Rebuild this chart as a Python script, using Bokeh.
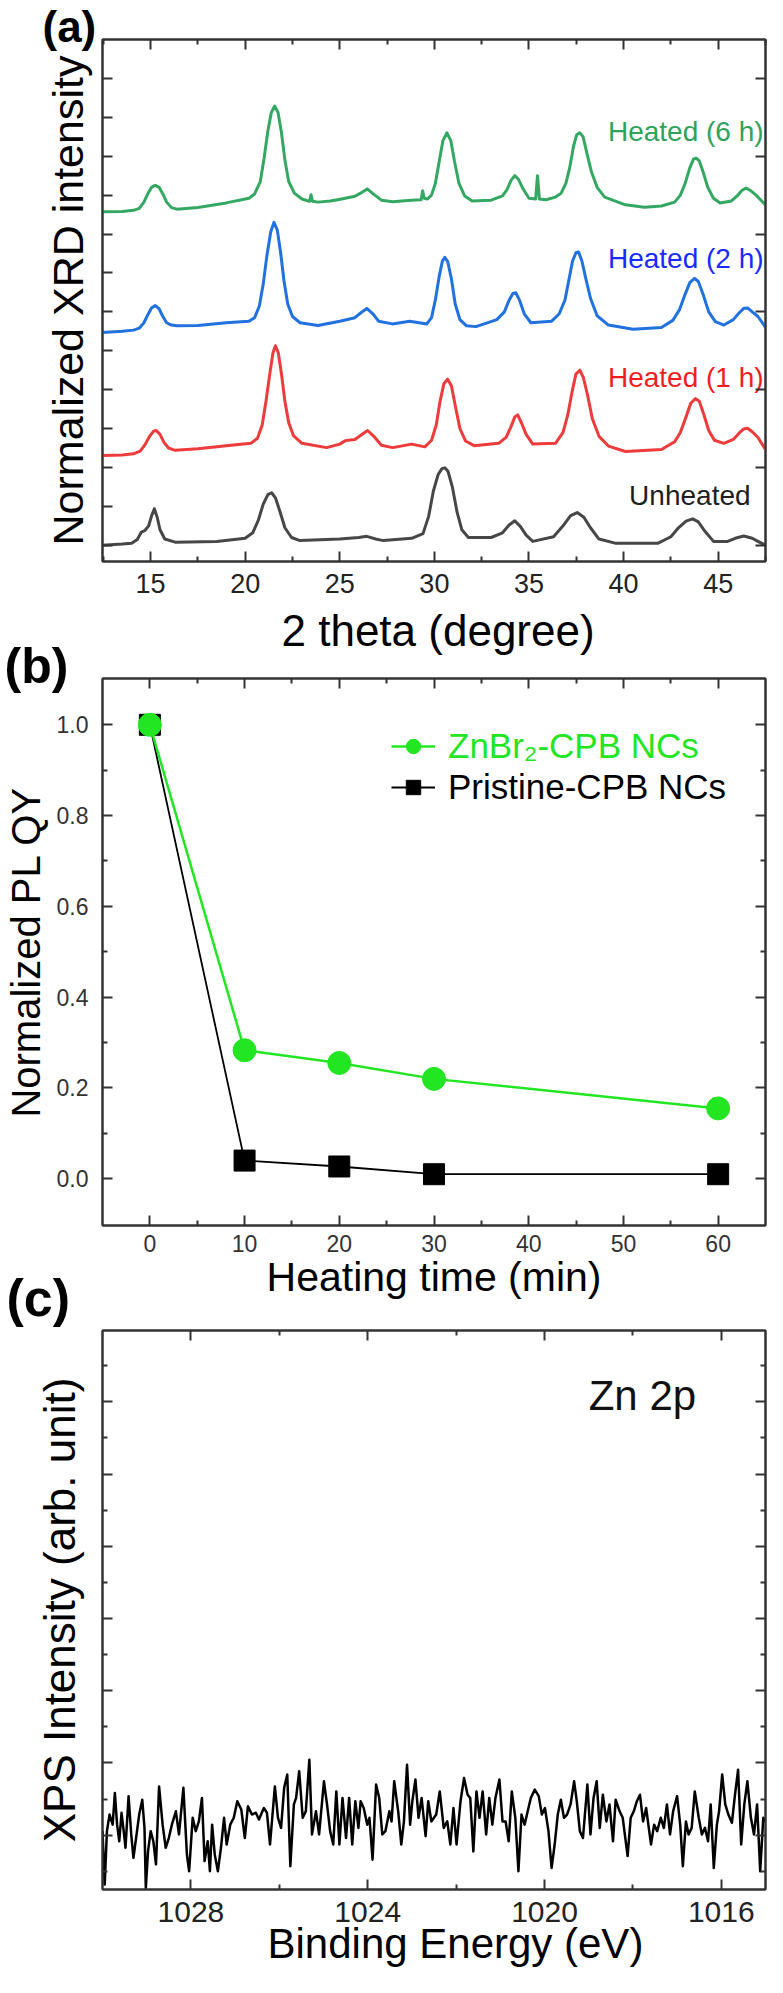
from bokeh.plotting import figure
from bokeh.models import (Range1d, FixedTicker, LinearAxis, Legend, LegendItem, Title,
                          PrintfTickFormatter, CustomJSTickFormatter)
from bokeh.layouts import column
from bokeh.embed import file_html
from bokeh.resources import INLINE
from bokeh.core.properties import value

# ---------------- data: (a) XRD patterns (2 theta, offset normalized intensity) ----------------
xrd_6h_2theta = [12.45, 13.5, 14.1, 14.4, 14.65, 14.85, 15.05, 15.25, 15.45, 15.65,
                 15.85, 16.1, 16.4, 17.5, 19.0, 20.2, 20.5, 20.8, 21.0, 21.2,
                 21.38, 21.56, 21.74, 21.92, 22.1, 22.3, 22.6, 23.0, 23.4, 23.48,
                 23.56, 23.85, 24.5, 25.1, 25.8, 26.1, 26.45, 26.8, 27.2, 27.8,
                 28.77, 29.3, 29.38, 29.46, 29.63, 29.85, 30.05, 30.25, 30.45, 30.66,
                 30.87, 31.07, 31.3, 31.6, 32.0, 33.0, 33.6, 33.85, 34.05, 34.25,
                 34.45, 34.7, 35.0, 35.35, 35.45, 35.55, 35.9, 36.4, 36.7, 36.95,
                 37.15, 37.35, 37.52, 37.69, 37.86, 38.05, 38.3, 38.6, 39.0, 40.1,
                 41.1, 42.0, 42.7, 43.0, 43.25, 43.5, 43.7, 43.84, 44.0, 44.2,
                 44.45, 44.75, 45.1, 45.7, 46.0, 46.25, 46.47, 46.7, 47.0, 47.3,
                 47.5]
xrd_6h_int = [8.57, 8.58, 8.61, 8.66, 8.82, 9.03, 9.20, 9.25, 9.20, 9.03,
              8.82, 8.68, 8.64, 8.68, 8.80, 8.92, 9.03, 9.35, 9.95, 10.65,
              11.12, 11.29, 11.12, 10.60, 9.90, 9.35, 9.05, 8.90, 8.84, 9.01,
              8.84, 8.82, 8.85, 8.90, 8.97, 9.05, 9.16, 9.02, 8.87, 8.83,
              8.87, 8.88, 9.11, 8.92, 8.90, 9.00, 9.30, 9.85, 10.40, 10.60,
              10.40, 9.85, 9.30, 8.98, 8.85, 8.87, 8.98, 9.15, 9.38, 9.50,
              9.40, 9.15, 8.92, 8.90, 9.50, 8.90, 8.88, 8.95, 9.05, 9.30,
              9.70, 10.25, 10.55, 10.60, 10.50, 10.10, 9.60, 9.20, 8.95, 8.75,
              8.69, 8.72, 8.82, 9.00, 9.30, 9.70, 9.93, 9.95, 9.88, 9.60,
              9.20, 8.92, 8.80, 8.85, 8.98, 9.12, 9.18, 9.12, 9.00, 8.85,
              8.75]

xrd_2h_2theta = [12.45, 13.5, 14.1, 14.4, 14.65, 14.85, 15.05, 15.25, 15.45, 15.65,
                 15.85, 16.1, 16.4, 17.5, 19.0, 20.2, 20.5, 20.75, 20.95, 21.15,
                 21.35, 21.52, 21.7, 21.88, 22.05, 22.25, 22.5, 22.9, 23.85, 25.0,
                 25.8, 26.1, 26.43, 26.75, 27.05, 27.78, 28.7, 29.6, 29.85, 30.05,
                 30.25, 30.42, 30.55, 30.7, 30.9, 31.1, 31.35, 31.7, 32.2, 33.3,
                 33.7, 33.95, 34.15, 34.3, 34.5, 34.75, 35.1, 36.2, 36.6, 36.9,
                 37.1, 37.3, 37.48, 37.62, 37.8, 38.0, 38.25, 38.6, 39.2, 40.5,
                 42.0, 42.6, 42.95, 43.25, 43.5, 43.75, 43.95, 44.2, 44.5, 44.85,
                 45.3, 45.8, 46.1, 46.35, 46.55, 46.8, 47.1, 47.5]
xrd_2h_int = [5.47, 5.50, 5.53, 5.58, 5.72, 5.92, 6.10, 6.16, 6.08, 5.88,
              5.72, 5.66, 5.64, 5.65, 5.72, 5.76, 5.85, 6.15, 6.70, 7.45,
              8.05, 8.30, 8.10, 7.50, 6.80, 6.20, 5.88, 5.72, 5.65, 5.76,
              5.85, 5.97, 6.09, 5.95, 5.76, 5.69, 5.76, 5.69, 5.85, 6.30,
              6.90, 7.30, 7.40, 7.30, 6.85, 6.20, 5.80, 5.64, 5.62, 5.80,
              6.00, 6.30, 6.47, 6.49, 6.30, 5.95, 5.72, 5.76, 5.95, 6.30,
              6.80, 7.30, 7.52, 7.54, 7.30, 6.86, 6.35, 5.90, 5.66, 5.55,
              5.60, 5.78, 6.05, 6.45, 6.75, 6.86, 6.78, 6.45, 6.00, 5.75,
              5.66, 5.80, 5.97, 6.09, 6.10, 6.00, 5.88, 5.60]

xrd_1h_2theta = [12.45, 13.5, 14.1, 14.45, 14.7, 14.95, 15.15, 15.3, 15.5, 15.7,
                 15.95, 16.3, 17.5, 19.0, 20.3, 20.65, 20.9, 21.1, 21.3, 21.47,
                 21.6, 21.75, 21.92, 22.1, 22.3, 22.55, 23.0, 24.3, 25.0, 25.3,
                 25.8, 26.15, 26.47, 26.8, 27.2, 27.8, 28.8, 29.5, 29.85, 30.1,
                 30.3, 30.5, 30.7, 30.9, 31.1, 31.35, 31.65, 32.1, 33.4, 33.8,
                 34.05, 34.25, 34.4, 34.6, 34.85, 35.2, 36.4, 36.8, 37.05, 37.28,
                 37.48, 37.69, 37.88, 38.1, 38.35, 38.7, 39.2, 40.1, 42.0, 42.7,
                 43.0, 43.3, 43.55, 43.8, 44.0, 44.25, 44.5, 44.8, 45.3, 45.8,
                 46.1, 46.35, 46.55, 46.8, 47.1, 47.5]
xrd_1h_int = [2.31, 2.32, 2.35, 2.42, 2.58, 2.80, 2.93, 2.95, 2.85, 2.65,
              2.50, 2.44, 2.48, 2.56, 2.62, 2.75, 3.09, 3.70, 4.40, 4.95,
              5.13, 4.95, 4.40, 3.70, 3.15, 2.82, 2.62, 2.51, 2.60, 2.69,
              2.72, 2.84, 2.95, 2.80, 2.57, 2.51, 2.60, 2.53, 2.70, 3.09,
              3.70, 4.15, 4.27, 4.10, 3.60, 3.00, 2.68, 2.56, 2.62, 2.78,
              3.05, 3.30, 3.35, 3.15, 2.85, 2.60, 2.62, 2.90, 3.35, 3.95,
              4.40, 4.50, 4.30, 3.85, 3.25, 2.80, 2.55, 2.41, 2.46, 2.66,
              2.90, 3.30, 3.65, 3.77, 3.70, 3.35, 2.95, 2.70, 2.62, 2.72,
              2.88, 2.99, 3.01, 2.92, 2.77, 2.46]

xrd_un_2theta = [12.45, 13.5, 14.0, 14.3, 14.5, 14.7, 14.9, 15.05, 15.2, 15.35,
                 15.5, 15.75, 16.3, 18.5, 20.0, 20.4, 20.7, 20.95, 21.2, 21.4,
                 21.6, 21.85, 22.1, 22.45, 22.9, 25.0, 26.0, 26.43, 26.9, 27.3,
                 28.8, 29.4, 29.7, 29.95, 30.2, 30.4, 30.55, 30.72, 30.95, 31.2,
                 31.45, 31.8, 33.0, 33.6, 33.95, 34.25, 34.55, 34.85, 35.2, 36.3,
                 36.8, 37.2, 37.55, 37.9, 38.25, 38.7, 39.6, 41.8, 42.5, 42.9,
                 43.3, 43.65, 43.95, 44.3, 44.75, 45.5, 45.9, 46.35, 46.8, 47.1,
                 47.5]
xrd_un_int = [0.00, 0.03, 0.05, 0.15, 0.33, 0.38, 0.50, 0.75, 0.94, 0.72,
              0.40, 0.16, 0.08, 0.10, 0.18, 0.32, 0.65, 1.05, 1.30, 1.35,
              1.22, 0.85, 0.45, 0.20, 0.12, 0.16, 0.20, 0.23, 0.16, 0.12,
              0.18, 0.30, 0.75, 1.40, 1.82, 1.97, 1.99, 1.90, 1.50, 0.85,
              0.40, 0.20, 0.20, 0.32, 0.52, 0.63, 0.48, 0.26, 0.10, 0.22,
              0.50, 0.76, 0.84, 0.72, 0.45, 0.16, 0.05, 0.05, 0.22, 0.45,
              0.62, 0.68, 0.60, 0.36, 0.10, 0.10, 0.18, 0.24, 0.18, 0.10,
              0.00]

xrd_names = ["Heated (6 h)", "Heated (2 h)", "Heated (1 h)", "Unheated"]
xrd_ticks = [15, 20, 25, 30, 35, 40, 45]

# ---------------- data: (b) PL QY vs heating time ----------------
heating_time = [0, 10, 20, 30, 60]
znbr2_qy = [1.0, 0.283, 0.255, 0.22, 0.155]
pristine_qy = [1.0, 0.04, 0.027, 0.01, 0.01]
qy_ticks = [0.0, 0.2, 0.4, 0.6, 0.8, 1.0]
time_ticks = [0, 10, 20, 30, 40, 50, 60]

# ---------------- data: (c) Zn 2p XPS ----------------
xps_be = [1030.00, 1029.95, 1029.90, 1029.84, 1029.77, 1029.72, 1029.67, 1029.62, 1029.57, 1029.52,
          1029.48, 1029.41, 1029.35, 1029.30, 1029.24, 1029.17, 1029.10, 1029.05, 1029.02, 1028.97,
          1028.91, 1028.85, 1028.79, 1028.72, 1028.64, 1028.57, 1028.50, 1028.43, 1028.34, 1028.27,
          1028.17, 1028.09, 1028.04, 1027.96, 1027.89, 1027.82, 1027.75, 1027.69, 1027.62, 1027.57,
          1027.52, 1027.46, 1027.39, 1027.32, 1027.25, 1027.19, 1027.11, 1027.03, 1026.95, 1026.86,
          1026.78, 1026.71, 1026.62, 1026.53, 1026.46, 1026.35, 1026.28, 1026.21, 1026.10, 1026.03,
          1025.96, 1025.89, 1025.82, 1025.75, 1025.67, 1025.62, 1025.55, 1025.47, 1025.40, 1025.32,
          1025.26, 1025.17, 1025.10, 1024.99, 1024.92, 1024.85, 1024.78, 1024.71, 1024.64, 1024.57,
          1024.49, 1024.42, 1024.35, 1024.28, 1024.21, 1024.16, 1024.09, 1024.01, 1023.96, 1023.89,
          1023.81, 1023.74, 1023.67, 1023.60, 1023.51, 1023.46, 1023.40, 1023.31, 1023.24, 1023.18,
          1023.11, 1023.04, 1022.99, 1022.92, 1022.85, 1022.78, 1022.69, 1022.63, 1022.56,
          1022.45, 1022.37, 1022.28, 1022.20, 1022.13, 1022.06, 1021.99, 1021.90, 1021.82, 1021.74,
          1021.68, 1021.61, 1021.54, 1021.47, 1021.40, 1021.32, 1021.25, 1021.18, 1021.11, 1021.02,
          1020.95, 1020.88, 1020.81, 1020.74, 1020.66, 1020.59, 1020.52, 1020.45, 1020.38, 1020.31,
          1020.22, 1020.13, 1020.06, 1019.99, 1019.91, 1019.84, 1019.77, 1019.70, 1019.63, 1019.56,
          1019.49, 1019.41, 1019.33, 1019.27, 1019.20, 1019.13, 1019.03, 1018.96, 1018.89, 1018.82,
          1018.75, 1018.68, 1018.60, 1018.53, 1018.45, 1018.39, 1018.30, 1018.23, 1018.12, 1018.05,
          1017.98, 1017.91, 1017.84, 1017.77, 1017.70, 1017.59, 1017.52, 1017.45, 1017.37, 1017.30,
          1017.23, 1017.16, 1017.09, 1017.00, 1016.93, 1016.87, 1016.80, 1016.74, 1016.67, 1016.60,
          1016.51, 1016.44, 1016.37, 1016.30, 1016.24, 1016.17, 1016.10, 1016.05, 1015.98, 1015.91,
          1015.84, 1015.76, 1015.69, 1015.62, 1015.55, 1015.48, 1015.41, 1015.33, 1015.26, 1015.19,
          1015.12, 1015.05, 1014.99]
xps_int = [1.11, -0.37, 1.11, 1.57, 1.29, 2.17, 1.29, 0.83, 1.62, 1.11,
           0.65, 2.08, 1.02, 0.37, 0.92, 1.57, 1.98, 1.20, -0.46, 0.55,
           1.11, 0.83, 0.19, 2.35, 1.29, 0.65, 0.92, 1.29, 1.66, 1.02,
           2.31, 0.46, 0.00, 1.48, 1.11, 1.38, 2.03, 0.28, 0.83, 0.00,
           1.29, 0.46, 0.00, 0.65, 1.48, 0.74, 1.29, 1.48, 1.94, 1.71,
           0.92, 1.80, 1.57, 1.62, 1.43, 1.75, 1.62, 0.74, 2.35, 1.48,
           1.20, 2.31, 2.68, 0.14, 1.85, 2.03, 2.77, 1.48, 1.66, 3.09,
           1.02, 1.66, 1.02, 2.49, 1.85, 1.11, 0.74, 2.21, 0.74, 2.03,
           0.92, 2.03, 0.74, 1.94, 1.20, 1.94, 1.75, 1.29, 1.48, 0.32,
           2.40, 2.03, 1.02, 1.11, 1.66, 1.38, 2.49, 1.66, 0.74, 1.38,
           2.95, 1.29, 1.94, 2.54, 1.48, 2.03, 0.97, 1.94, 1.38,
           1.57, 2.21, 1.20, 1.38, 0.74, 1.75, 0.74, 1.94, 2.58, 2.12,
           2.03, 0.55, 2.21, 1.48, 2.21, 1.02, 2.03, 1.29, 2.03, 2.54,
           1.38, 1.38, 0.83, 2.21, 1.48, 0.00, 1.57, 1.29, 1.66, 2.03,
           2.26, 2.08, 1.57, 1.75, 1.11, 0.09, 0.74, 1.57, 1.98, 1.48,
           1.57, 1.85, 2.49, 1.94, 1.11, 0.92, 2.40, 1.02, 2.03, 2.49,
           1.20, 2.12, 1.38, 1.85, 0.83, 1.98, 1.66, 1.48, 0.42, 1.48,
           1.66, 1.94, 2.12, 1.38, 1.75, 0.74, 1.29, 1.11, 1.48, 1.20,
           1.85, 1.02, 1.66, 2.08, 1.29, 0.14, 1.38, 1.02, 1.20, 2.21,
           1.48, 1.02, 1.20, 0.83, 1.85, 0.09, 1.29, 1.66, 2.68, 1.85,
           1.57, 1.34, 2.12, 2.81, 0.74, 1.85, 2.49, 1.48, 1.02, 1.85,
           0.00, 1.48, 1.38]
xps_ticks = [1028, 1024, 1020, 1016]

# ---------------- styling helpers ----------------
FONT = "Liberation Sans"
FRAME = "#333333"


def base_fig(w, h, xr, yr, left, right, top, bottom):
    p = figure(width=w, height=h, x_range=xr, y_range=yr, output_backend="svg",
               toolbar_location=None, title_location=None,
               min_border_left=left, min_border_right=right,
               min_border_top=top, min_border_bottom=bottom)
    p.grid.visible = False
    p.outline_line_color = FRAME
    p.outline_line_width = 2
    return p


def style_axis(ax, ticks, minor, label_size=None, standoff=0, color="#222222"):
    ax.ticker = FixedTicker(ticks=ticks, minor_ticks=minor)
    ax.axis_line_color = FRAME
    ax.axis_line_width = 2
    ax.major_tick_line_color = FRAME
    ax.major_tick_line_width = 2
    ax.minor_tick_line_color = FRAME
    ax.minor_tick_line_width = 2
    ax.major_tick_in = 10
    ax.major_tick_out = 0
    ax.minor_tick_in = 5
    ax.minor_tick_out = 0
    ax.major_label_text_font = FONT
    ax.axis_label_text_font = FONT
    ax.axis_label_text_font_style = "normal"
    ax.axis_label_text_color = "#000000"
    if label_size is None:
        ax.formatter = CustomJSTickFormatter(code="return ''")
        ax.major_label_text_font_size = "0px"
        ax.major_label_standoff = 0
    else:
        ax.major_label_text_font_size = label_size
        ax.major_label_standoff = standoff
        ax.major_label_text_color = color


def mirror(p, place, ticks, minor):
    ax = LinearAxis()
    style_axis(ax, ticks, minor)
    p.add_layout(ax, place)


def side_text(p, place, text, size, offset, standoff, valign, bold=False):
    p.add_layout(Title(text=text, align="left", offset=offset, standoff=standoff,
                       vertical_align=valign, text_font=FONT, text_font_size=size,
                       text_font_style="bold" if bold else "normal",
                       text_color="#000000"), place)


W = 767

# ---------------- (a) ----------------
pa = base_fig(W, 604, Range1d(12.46, 47.5), Range1d(-0.417, 13.0), 60, 2, 39, 43)
xa_minor = [12.5, 17.5, 22.5, 27.5, 32.5, 37.5, 42.5, 47.5]
style_axis(pa.xaxis[0], xrd_ticks, xa_minor, "27px", 12)
style_axis(pa.yaxis[0], list(range(13)), [])
pa.yaxis[0].axis_label = "Normalized XRD intensity"
pa.yaxis[0].axis_label_text_font_size = "43px"
pa.yaxis[0].axis_label_standoff = 11
mirror(pa, "above", xrd_ticks, xa_minor)
mirror(pa, "right", [0, 2, 4, 6, 8, 10, 12], [])

curve_colors = ["#34a862", "#2172e0", "#ee3b3b", "#474747"]
text_colors = ["#2ea35a", "#1a2bff", "#f21e1e", "#1e1e1e"]
for xs, ys, c in zip([xrd_6h_2theta, xrd_2h_2theta, xrd_1h_2theta, xrd_un_2theta],
                     [xrd_6h_int, xrd_2h_int, xrd_1h_int, xrd_un_int], curve_colors):
    pa.line(xs, ys, line_color=c, line_width=3, line_join="round")

label_x = [47.4, 47.4, 47.4, 46.71]
label_y = [10.64, 7.37, 4.30, 1.29]
for name, lx, ly, c in zip(xrd_names, label_x, label_y, text_colors):
    pa.text(x=[lx], y=[ly], text=[name], text_font=value(FONT), text_font_size=value("28px"),
            text_color=c, text_align="right", text_baseline="middle")

side_text(pa, "above", "(a)", "44px", -60, -22, "bottom", bold=True)

# ---------------- (b) ----------------
pb = base_fig(W, 725, Range1d(-5, 65), Range1d(-0.103, 1.102), 98, 2, 74, 104)
tb_minor = [5, 15, 25, 35, 45, 55]
qb_minor = [0.1, 0.3, 0.5, 0.7, 0.9]
style_axis(pb.xaxis[0], time_ticks, tb_minor, "23px", 9, "#333333")
pb.xaxis[0].axis_label = "Heating time (min)"
pb.xaxis[0].axis_label_text_font_size = "41px"
pb.xaxis[0].axis_label_standoff = -1
style_axis(pb.yaxis[0], qy_ticks, qb_minor, "23px", 14, "#333333")
pb.yaxis[0].formatter = PrintfTickFormatter(format="%.1f")
pb.yaxis[0].axis_label = "Normalized PL QY"
pb.yaxis[0].axis_label_text_font_size = "40px"
pb.yaxis[0].axis_label_standoff = 6
mirror(pb, "above", time_ticks, tb_minor)
mirror(pb, "right", qy_ticks, qb_minor)

GREEN = "#22e622"
pr_line = pb.line(heating_time, pristine_qy, line_color="#000000", line_width=1.8)
pr_pts = pb.scatter(heating_time, pristine_qy, marker="square", size=21,
                    fill_color="#000000", line_color="#000000")
zn_line = pb.line(heating_time, znbr2_qy, line_color=GREEN, line_width=2.5)
zn_pts = pb.scatter(heating_time, znbr2_qy, marker="circle", size=23,
                    fill_color=GREEN, line_color=GREEN)


def make_legend(label, renderers, loc, color):
    lg = Legend(items=[LegendItem(label=label, renderers=renderers)], location=loc,
                label_text_font=FONT, label_text_font_size="35px", label_text_color=color,
                glyph_width=44, glyph_height=36, label_height=36, label_standoff=13,
                padding=0, spacing=0, margin=0, border_line_alpha=0,
                background_fill_alpha=0)
    pb.add_layout(lg)


make_legend("ZnBr\u2082-CPB NCs", [zn_line, zn_pts], (289, 459), GREEN)
make_legend("Pristine-CPB NCs", [pr_line, pr_pts], (289, 418), "#000000")

# panel letter (b) and the x title of panel (a) share the band above panel (b)
side_text(pb, "above", "(b)", "50px", -98, -31, "bottom", bold=True)
side_text(pb, "above", "2 theta (degree)", "44px", 179, -6, "bottom")
# panel letter (c) sits beside the x title of panel (b)
side_text(pb, "below", "(c)", "52px", -96, -68, "top", bold=True)

# ---------------- (c) ----------------
pc = base_fig(W, 648, Range1d(1030, 1015), Range1d(-0.506, 14.977), 75, 2, 1, 88)
xc_minor = [1026, 1022, 1018]
yc_major = [1, 3, 5, 7, 9, 11, 13]
yc_minor = [0, 2, 4, 6, 8, 10, 12, 14]
style_axis(pc.xaxis[0], xps_ticks, xc_minor, "30px", 12)
style_axis(pc.yaxis[0], yc_major, yc_minor)
pc.yaxis[0].axis_label = "XPS Intensity (arb. unit)"
pc.yaxis[0].axis_label_text_font_size = "44px"
pc.yaxis[0].axis_label_standoff = 19
mirror(pc, "above", xps_ticks, xc_minor)
mirror(pc, "right", yc_major, yc_minor)
side_text(pc, "below", "Binding Energy (eV)", "42px", 165, -14, "bottom")

pc.line(xps_be, xps_int, line_color="#000000", line_width=2.5, line_join="round")
pc.text(x=[1019.0], y=[13.18], text=["Zn 2p"], text_font=value(FONT),
        text_font_size=value("42px"), text_color="#111111", text_align="left",
        text_baseline="middle")

layout = column(pa, pb, pc)
open("out.html", "w").write(file_html(layout, INLINE))
